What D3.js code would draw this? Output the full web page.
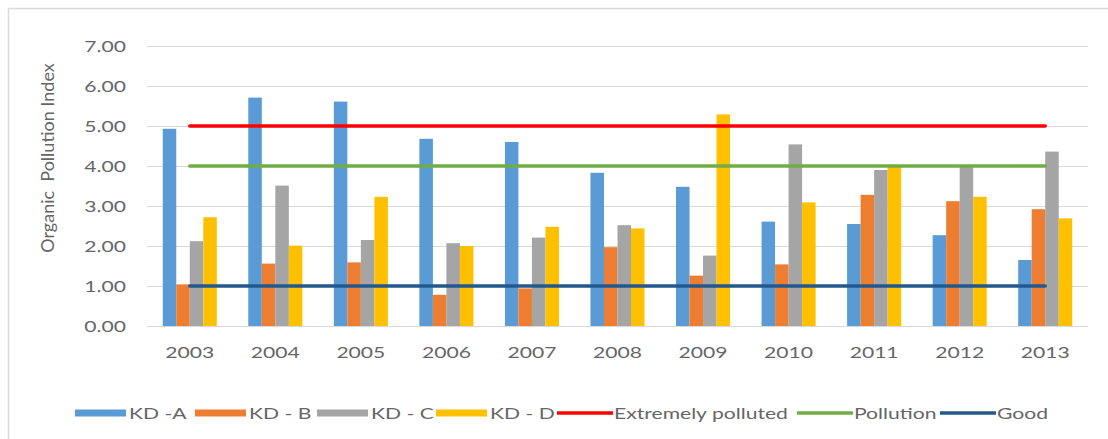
<!DOCTYPE html>
<html>
<head>
<meta charset="utf-8">
<script src="https://cdn.jsdelivr.net/npm/d3@7/dist/d3.min.js"></script>
<style>
  html, body { margin: 0; padding: 0; background: #fff; }
  svg { display: block; }
  text { font-family: Lato, "Open Sans", sans-serif; fill: #666666; }
</style>
</head>
<body>
<svg id="chart" width="1108" height="439"></svg>
<script>
// Years on the category axis
const years = ["2003","2004","2005","2006","2007","2008","2009","2010","2011","2012","2013"];

// Organic pollution index per station
const kdA = [4.93, 5.71, 5.61, 4.68, 4.60, 3.83, 3.48, 2.61, 2.55, 2.27, 1.65];
const kdB = [1.04, 1.56, 1.59, 0.78, 0.94, 1.97, 1.26, 1.54, 3.28, 3.12, 2.92];
const kdC = [2.12, 3.51, 2.15, 2.07, 2.21, 2.52, 1.76, 4.54, 3.90, 4.02, 4.36];
const kdD = [2.72, 2.01, 3.23, 2.00, 2.48, 2.44, 5.29, 3.09, 3.98, 3.23, 2.69];

// Classification thresholds (constant across years)
const extremelyPolluted = [5, 5, 5, 5, 5, 5, 5, 5, 5, 5, 5];
const pollution = [4, 4, 4, 4, 4, 4, 4, 4, 4, 4, 4];
const good = [1, 1, 1, 1, 1, 1, 1, 1, 1, 1, 1];

const yTicks = [0, 1, 2, 3, 4, 5, 6, 7];

const barSeries = [
  { name: "KD -A", values: kdA, color: "#5b9bd5" },
  { name: "KD - B", values: kdB, color: "#ed7d31" },
  { name: "KD - C", values: kdC, color: "#a5a5a5" },
  { name: "KD - D", values: kdD, color: "#ffc000" }
];
const lineSeries = [
  { name: "Extremely polluted", values: extremelyPolluted, color: "#ff0000" },
  { name: "Pollution", values: pollution, color: "#70ad47" },
  { name: "Good", values: good, color: "#23588f" }
];

const svg = d3.select("#chart");
const SX = 1.32; // horizontal stretch applied to labels
const FS = 16;

// Outer chart frame
svg.append("rect")
  .attr("x", 8.5).attr("y", 8.5)
  .attr("width", 1120).attr("height", 440)
  .attr("fill", "#fff").attr("stroke", "#d9d9d9").attr("stroke-width", 1.5);

const x = d3.scaleBand().domain(years).range([147, 1088]).paddingInner(0.368).paddingOuter(0.184);
const xs = d3.scaleBand().domain(barSeries.map(s => s.name)).range([0, x.bandwidth()]);
const y = d3.scaleLinear().domain([0, 7]).range([326, 46]);

// Gridlines
svg.append("g").selectAll("line").data(yTicks).join("line")
  .attr("x1", 147).attr("x2", 1088)
  .attr("y1", d => y(d) + 0.5).attr("y2", d => y(d) + 0.5)
  .attr("stroke", "#d9d9d9").attr("stroke-width", 1);

// Y tick labels
svg.append("g").selectAll("text").data(yTicks).join("text")
  .attr("transform", d => `translate(126,${y(d)}) scale(${SX},1)`)
  .attr("text-anchor", "end").attr("dy", "0.36em")
  .attr("font-size", FS)
  .text(d => d3.format(".2f")(d));

// X tick labels
svg.append("g").selectAll("text").data(years).join("text")
  .attr("transform", d => `translate(${x(d) + x.bandwidth() / 2},352) scale(${SX},1)`)
  .attr("text-anchor", "middle").attr("dy", "0.36em")
  .attr("font-size", FS)
  .text(d => d);

// Y axis title
svg.append("text")
  .attr("transform", "translate(54,158) rotate(-90)")
  .attr("text-anchor", "middle")
  .attr("font-size", 18)
  .style("white-space", "pre")
  .text("Organic  Pollution Index");

// Bars
const groups = svg.append("g").selectAll("g").data(barSeries).join("g")
  .attr("fill", s => s.color);
groups.selectAll("rect").data(s => s.values.map((v, i) => ({ s, v, year: years[i] }))).join("rect")
  .attr("x", d => x(d.year) + xs(d.s.name))
  .attr("width", xs.bandwidth())
  .attr("y", d => y(d.v))
  .attr("height", d => y(0) - y(d.v));

// Threshold lines
const line = d3.line()
  .x((d, i) => x(years[i]) + x.bandwidth() / 2)
  .y(d => y(d));
svg.append("g").selectAll("path").data(lineSeries).join("path")
  .attr("d", s => line(s.values))
  .attr("fill", "none")
  .attr("stroke", s => s.color)
  .attr("stroke-width", 3.5)
  .attr("stroke-linecap", "round");

// Legend
const legendY = 413;
const legendItems = [
  { s: barSeries[0], x: 75 },
  { s: barSeries[1], x: 195 },
  { s: barSeries[2], x: 317 },
  { s: barSeries[3], x: 436 },
  { s: lineSeries[0], x: 557, line: true },
  { s: lineSeries[1], x: 797, line: true },
  { s: lineSeries[2], x: 940, line: true }
];
const lg = svg.append("g").selectAll("g").data(legendItems).join("g")
  .attr("transform", d => `translate(${d.x},${legendY})`);
lg.filter(d => !d.line).append("rect")
  .attr("x", 0).attr("y", -3.5).attr("width", 51).attr("height", 7)
  .attr("fill", d => d.s.color);
lg.filter(d => d.line).append("line")
  .attr("x1", 0).attr("x2", 56).attr("y1", 0).attr("y2", 0)
  .attr("stroke", d => d.s.color).attr("stroke-width", 3.5);
lg.append("text")
  .attr("transform", d => `translate(${d.line ? 57 : 54},0) scale(${SX},1)`)
  .attr("dy", "0.36em").attr("font-size", FS)
  .text(d => d.s.name);
</script>
</body>
</html>
